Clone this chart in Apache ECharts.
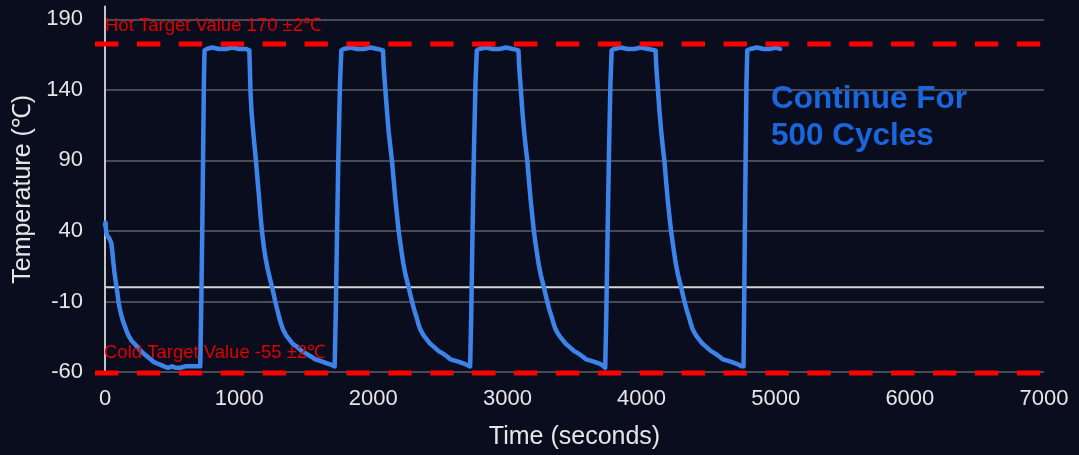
<!DOCTYPE html>
<html>
<head>
<meta charset="utf-8">
<script src="https://cdn.jsdelivr.net/npm/echarts@6/dist/echarts.min.js"></script>
<style>
html,body{margin:0;padding:0;background:#0a0d1e;}
#chart{width:1079px;height:455px;}
</style>
</head>
<body>
<div id="chart"></div>
<script>
// ---- data (time in seconds, temperature in °C) ----
const yTickValues = [-60, -10, 40, 90, 140, 190];
const xTickValues = [0, 1000, 2000, 3000, 4000, 5000, 6000, 7000];
const hotTarget = 172.5;
const coldTarget = -60;
const hotLabel = 'Hot Target Value 170 \u00b12\u2103';
const coldLabel = 'Cold Target Value -55 \u00b12\u2103';
const noteText = 'Continue For\n500 Cycles';

const cycle1 = [[0,44],[4,46],[8,40],[14,37],[22,36],[30,35],[40,33],[48,31],[55,25],[62,18],[70,11],[80,4],[87,0],[95,-6],[102,-11],[112,-16],[125,-21],[138,-25],[150,-28],[165,-32],[180,-35],[200,-38],[220,-40],[240,-42],[265,-45],[290,-47],[315,-49],[340,-51],[365,-53],[390,-54],[415,-55],[440,-56],[470,-57],[500,-56],[530,-57],[560,-57],[600,-56],[640,-56],[680,-56],[710,-56],
  [718,-10],[725,40],[732,100],[738,150],[742,168],
  [760,169],[800,170],[850,169],[900,169],[950,170],[1000,169],[1050,169],[1076,168]];
const cycle2 = [[1080,155],[1084,140],[1092,125],[1105,110],[1118,97],[1125,90],[1138,75],[1150,62],[1160,50],[1170,40],[1185,28],[1200,19],[1215,12],[1230,6],[1246,0],[1258,-5],[1269,-10],[1282,-15],[1298,-21],[1313,-26],[1328,-30],[1350,-34],[1375,-37],[1400,-40],[1430,-42],[1465,-45],[1500,-47],[1535,-49],[1567,-51],[1600,-52],[1630,-53],[1660,-54],[1690,-55],[1712,-56],
  [1720,-20],[1730,40],[1740,95],[1752,145],[1762,168],
  [1780,169],[1830,170],[1880,169],[1930,169],[1980,170],[2030,169],[2072,168]];
const cycle3 = [[2078,156],[2090,140],[2102,125],[2115,110],[2128,99],[2139,90],[2152,76],[2165,62],[2178,50],[2189,40],[2205,29],[2222,18],[2240,9],[2264,0],[2276,-5],[2289,-10],[2305,-16],[2322,-21],[2336,-26],[2351,-30],[2375,-34],[2400,-37],[2425,-40],[2450,-42],[2485,-45],[2520,-47],[2550,-49],[2575,-51],[2610,-52],[2645,-53],[2675,-54],[2699,-55],[2722,-56],
  [2730,-20],[2740,40],[2750,95],[2762,145],[2772,168],
  [2790,169],[2840,170],[2890,169],[2940,169],[2990,170],[3040,169],[3082,168]];
const cycle4 = [[3088,156],[3100,140],[3112,124],[3125,110],[3138,98],[3148,90],[3160,76],[3173,62],[3186,50],[3197,40],[3213,29],[3230,18],[3248,9],[3272,0],[3284,-5],[3297,-10],[3313,-16],[3330,-21],[3345,-26],[3360,-30],[3385,-34],[3410,-37],[3435,-40],[3460,-42],[3495,-45],[3530,-47],[3560,-49],[3585,-51],[3620,-52],[3655,-53],[3685,-54],[3705,-55],[3729,-57],
  [3737,-20],[3747,40],[3757,95],[3768,145],[3777,168],
  [3795,169],[3845,170],[3895,169],[3945,169],[3995,170],[4050,169],[4104,168]];
const cycle5 = [[4110,156],[4122,140],[4134,124],[4147,110],[4160,98],[4170,90],[4182,76],[4195,62],[4208,50],[4220,40],[4236,29],[4253,18],[4271,9],[4295,0],[4307,-5],[4320,-10],[4336,-16],[4353,-21],[4368,-26],[4382,-30],[4406,-34],[4430,-37],[4455,-40],[4480,-42],[4515,-45],[4550,-47],[4580,-49],[4605,-51],[4640,-52],[4675,-53],[4705,-54],[4728,-55],[4745,-56],[4760,-56],
  [4764,-20],[4770,40],[4776,95],[4782,145],[4788,168],
  [4810,169],[4860,170],[4910,169],[4960,169],[5000,170],[5032,169]];

const temperatureData = [].concat(cycle1, cycle2, cycle3, cycle4, cycle5);

// ---- chart ----
const FONT = "'Liberation Sans', Arial, sans-serif";
const chart = echarts.init(document.getElementById('chart'), null, {renderer: 'canvas'});
chart.setOption({
  backgroundColor: '#0a0d1e',
  animation: false,
  textStyle: {fontFamily: FONT},
  grid: [
    {left: 105, right: 35, top: 6.6, bottom: 82},
    {left: 95, right: 38, top: 6.6, bottom: 82}
  ],
  xAxis: [
    {
      type: 'value', gridIndex: 0, min: 0, max: 7000, interval: 1000,
      name: 'Time (seconds)', nameLocation: 'middle', nameGap: 53,
      nameTextStyle: {color: '#e6e6e6', fontSize: 25, fontFamily: FONT},
      axisLine: {show: false}, axisTick: {show: false}, splitLine: {show: false},
      axisLabel: {color: '#e6e6e6', fontSize: 22, margin: 16, fontFamily: FONT,
        customValues: xTickValues, formatter: function (v) { return String(v); }}
    },
    {type: 'value', gridIndex: 1, min: 0, max: 1, show: false}
  ],
  yAxis: [
    {
      type: 'value', gridIndex: 0, min: -60, max: 199, interval: 50,
      name: 'Temperature (\u2103)', nameLocation: 'middle', nameGap: 65,
      nameTextStyle: {color: '#e6e6e6', fontSize: 25, fontFamily: FONT},
      axisLine: {show: true, lineStyle: {color: '#c4c4c4', width: 2}},
      axisTick: {show: false, customValues: yTickValues},
      axisLabel: {color: '#e6e6e6', fontSize: 22, margin: 22, fontFamily: FONT,
        customValues: yTickValues, formatter: function (v) { return String(v); }},
      splitLine: {show: true, lineStyle: {color: '#5e6068', width: 1.5}}
    },
    {type: 'value', gridIndex: 1, min: -60, max: 199, show: false}
  ],
  series: [
    {
      type: 'line', xAxisIndex: 0, yAxisIndex: 0, z: 1, silent: true,
      data: [[0, 0], [7000, 0]], showSymbol: false,
      lineStyle: {color: '#d6d6d6', width: 2}
    },
    {
      type: 'line', xAxisIndex: 0, yAxisIndex: 0, z: 3, silent: true,
      data: temperatureData, showSymbol: false,
      lineStyle: {color: '#3d84ea', width: 4.5, join: 'round', cap: 'round'}
    },
    {
      type: 'line', xAxisIndex: 1, yAxisIndex: 1, z: 5, silent: true, clip: false,
      data: [[0, hotTarget], [1, hotTarget]], showSymbol: false,
      lineStyle: {color: '#ff0000', width: 5, type: [23.4, 18.5], cap: 'butt'}
    },
    {
      type: 'line', xAxisIndex: 1, yAxisIndex: 1, z: 5, silent: true, clip: false,
      data: [[0, coldTarget], [1, coldTarget]], showSymbol: false,
      lineStyle: {color: '#ff0000', width: 5, type: [23.4, 18.5], cap: 'butt'}
    }
  ],
  graphic: [
    {type: 'text', left: 105, top: 16, z: 10, silent: true,
     style: {text: hotLabel, fill: '#e00000', fontSize: 18.5, fontFamily: FONT}},
    {type: 'text', left: 104, top: 343, z: 10, silent: true,
     style: {text: coldLabel, fill: '#e00000', fontSize: 18.5, fontFamily: FONT}},
    {type: 'text', left: 771, top: 81, z: 10, silent: true,
     style: {text: noteText, fill: '#1a66dd', fontSize: 31.5, fontWeight: 'bold', lineHeight: 37, fontFamily: FONT}}
  ]
});
</script>
</body>
</html>
